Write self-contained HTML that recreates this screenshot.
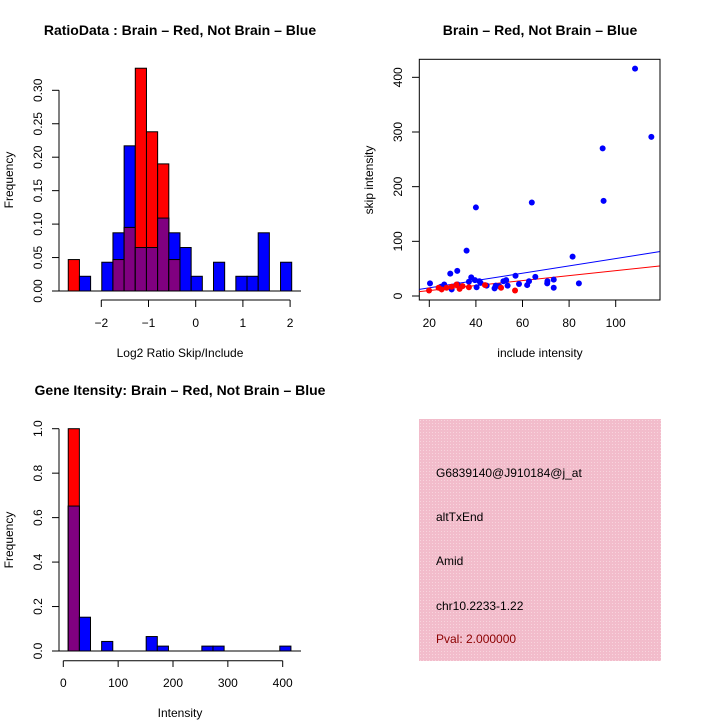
<!DOCTYPE html>
<html><head><meta charset="utf-8"><style>
body{margin:0;background:#fff}
svg{display:block;font-family:"Liberation Sans",sans-serif}
</style></head><body>
<svg id="c" width="720" height="720" viewBox="0 0 720 720">
<defs><pattern id="hatch" width="3" height="3" patternUnits="userSpaceOnUse"><rect width="3" height="3" fill="#f2bccb"/><rect width="1" height="1" fill="#f8d4dd"/></pattern></defs>
<text x="180" y="35" text-anchor="middle" font-size="14" font-weight="bold">RatioData : Brain – Red, Not Brain – Blue</text>
<text x="540" y="35" text-anchor="middle" font-size="14" font-weight="bold">Brain – Red, Not Brain – Blue</text>
<text x="180" y="395" text-anchor="middle" font-size="14" font-weight="bold">Gene Itensity: Brain – Red, Not Brain – Blue</text>
<text x="180" y="357" text-anchor="middle" font-size="12">Log2 Ratio Skip/Include</text>
<text x="540" y="357" text-anchor="middle" font-size="12">include intensity</text>
<text x="180" y="717" text-anchor="middle" font-size="12">Intensity</text>
<text transform="translate(13,180) rotate(-90)" text-anchor="middle" font-size="12">Frequency</text>
<text transform="translate(373,180) rotate(-90)" text-anchor="middle" font-size="12">skip intensity</text>
<text transform="translate(13,540) rotate(-90)" text-anchor="middle" font-size="12">Frequency</text>
<rect x="419" y="419" width="242" height="242" fill="url(#hatch)"/>
<g font-size="12">
<text x="436" y="477">G6839140@J910184@j_at</text>
<text x="436" y="521">altTxEnd</text>
<text x="436" y="565">Amid</text>
<text x="436" y="610">chr10.2233-1.22</text>
<text x="436" y="643" fill="#8b0000">Pval: 2.000000</text>
</g>
<g id="g1"></g><g id="g2"></g><g id="g3"></g>
</svg>
<script>
// Ratio histogram
const ratioBinStart = -2.70, ratioBinWidth = 0.2367;
const ratioRed  = [0.047,0,0,0,0.047,0.095,0.333,0.238,0.190,0.047,0,0,0,0,0,0,0,0,0,0];
const ratioBlue = [0,0.022,0,0.043,0.087,0.217,0.065,0.065,0.109,0.087,0.065,0.022,0,0.043,0,0.022,0.022,0.087,0,0.043];
const ratioXTicks = [-2,-1,0,1,2];
const ratioYTicks = ["0.00","0.05","0.10","0.15","0.20","0.25","0.30"];
// Scatter
const blueX = [20.3,26.4,29,32,32.2,36,37,38,40,39.6,40.3,41.5,42,44.6,48,48.5,50,51.8,53,53.6,57,58.5,62,62.8,64,65.5,70.6,70.7,73.4,73.4,81.5,84.2,94.4,94.8,108.3,115.3,29.6,25];
const blueY = [23,21,41,46,21,83,26,34,162,29,16,27,24,19,14,19,18,27,29,19,37,22,20,27,171,35,23,27,30,15,72,23,270,174,416,291,12,17];
const redX = [19.9,24,25.3,27.4,29.6,31.7,33,34.3,37,43.9,50.8,56.8];
const redY = [10,15,12,15,17,21,13,18,16,20,15,10];
const fitIntercept = [1.5,0.8]; // blue, red
const fitSlope = [0.67,0.456];
const scatXTicks = [20,40,60,80,100];
const scatYTicks = [0,100,200,300,400];
// Intensity histogram
const intBinStart = 9, intBinWidth = 20.3;
const intRed  = [1.0,0,0,0,0,0,0,0,0,0,0,0,0,0,0,0,0,0,0,0];
const intBlue = [0.652,0.152,0,0.043,0,0,0,0.065,0.022,0,0,0,0.022,0.022,0,0,0,0,0,0.022];
const intXTicks = [0,100,200,300,400];
const intYTicks = ["0.0","0.2","0.4","0.6","0.8","1.0"];

const NS="http://www.w3.org/2000/svg";
function mk(parent,tag,attrs){const e=document.createElementNS(NS,tag);for(const k in attrs)e.setAttribute(k,attrs[k]);parent.appendChild(e);return e;}
function txt(parent,x,y,s,rot){const t=mk(parent,'text',{x:x,y:y,'font-size':12,'text-anchor':'middle'});if(rot)t.setAttribute('transform','rotate(-90 '+x+' '+y+')');t.textContent=s;return t;}

function hist(g,red,blue,start,width,sx,sy,y0){
  for(let i=0;i<red.length;i++){
    const x0=sx(start+i*width),x1=sx(start+(i+1)*width);
    const r=red[i],b=blue[i];
    if(b>0){const e=mk(g,'rect',{x:x0,y:sy(b),width:x1-x0,height:y0-sy(b),fill:'#0000ff',stroke:'#000','stroke-width':1});
      
      }
    if(r>0){const e=mk(g,'rect',{x:x0,y:sy(r),width:x1-x0,height:y0-sy(r),fill:'#ff0000',stroke:'#000','stroke-width':1});
      
      }
    const m=Math.min(r,b);
    if(m>0){const e=mk(g,'rect',{x:x0,y:sy(m),width:x1-x0,height:y0-sy(m),fill:'#800080',stroke:'#000','stroke-width':1});
      
      }
  }
}
// Panel 1
(function(){
  const g=document.getElementById('g1');
  const sx=v=>101.3+(v+2)*47.2, sy=v=>291-v*669;
  hist(g,ratioRed,ratioBlue,ratioBinStart,ratioBinWidth,sx,sy,291);
  mk(g,'line',{x1:52,y1:291,x2:301,y2:291,stroke:'#000'});
  mk(g,'line',{x1:59,y1:sy(0),x2:59,y2:sy(0.30),stroke:'#000'});
  ratioYTicks.forEach(t=>{const y=sy(+t);mk(g,'line',{x1:52,y1:y,x2:59,y2:y,stroke:'#000'});txt(g,42,y,t,true);});
  mk(g,'line',{x1:sx(ratioXTicks[0]),y1:300,x2:sx(ratioXTicks[ratioXTicks.length-1]),y2:300,stroke:'#000'});
  ratioXTicks.forEach(t=>{const x=sx(t);mk(g,'line',{x1:x,y1:300,x2:x,y2:307,stroke:'#000'});txt(g,x,327,t<0?'\u2212'+(-t):String(t));});
})();
// Panel 2
(function(){
  const g=document.getElementById('g2');
  const sx=v=>429.3+(v-20)*2.33, sy=v=>296-v*0.5467;
  mk(g,'rect',{x:419.3,y:59.3,width:240.7,height:240.7,fill:'none',stroke:'#000'});
  const cl=mk(g,'clipPath',{id:'clp'});mk(cl,'rect',{x:419.3,y:59.3,width:240.7,height:240.7});
  const xa=15.7,xb=118.8;
  ['#0000ff','#ff0000'].forEach((c,i)=>{const l=mk(g,'line',{x1:sx(xa),y1:sy(fitIntercept[i]+fitSlope[i]*xa),x2:sx(xb),y2:sy(fitIntercept[i]+fitSlope[i]*xb),stroke:c,'clip-path':'url(#clp)'});
    
    });
  blueX.forEach((x,i)=>{const p=mk(g,'circle',{cx:sx(x),cy:sy(blueY[i]),r:3,fill:'#0000ff'});
    
    });
  redX.forEach((x,i)=>{const p=mk(g,'circle',{cx:sx(x),cy:sy(redY[i]),r:3,fill:'#ff0000'});
    
    });
  scatXTicks.forEach(t=>{const x=sx(t);mk(g,'line',{x1:x,y1:300,x2:x,y2:307,stroke:'#000'});txt(g,x,327,String(t));});
  scatYTicks.forEach(t=>{const y=sy(t);mk(g,'line',{x1:412,y1:y,x2:419.3,y2:y,stroke:'#000'});txt(g,402,y,String(t),true);});
})();
// Panel 3
(function(){
  const g=document.getElementById('g3');
  const sx=v=>63.3+v*0.5485, sy=v=>651-v*222.3;
  hist(g,intRed,intBlue,intBinStart,intBinWidth,sx,sy,651);
  mk(g,'line',{x1:52,y1:651,x2:301,y2:651,stroke:'#000'});
  mk(g,'line',{x1:59,y1:sy(0),x2:59,y2:sy(1),stroke:'#000'});
  intYTicks.forEach(t=>{const y=sy(+t);mk(g,'line',{x1:52,y1:y,x2:59,y2:y,stroke:'#000'});txt(g,42,y,t,true);});
  mk(g,'line',{x1:sx(0),y1:660.7,x2:sx(400),y2:660.7,stroke:'#000'});
  intXTicks.forEach(t=>{const x=sx(t);mk(g,'line',{x1:x,y1:660.7,x2:x,y2:667,stroke:'#000'});txt(g,x,687,String(t));});
})();
</script>
</body></html>
